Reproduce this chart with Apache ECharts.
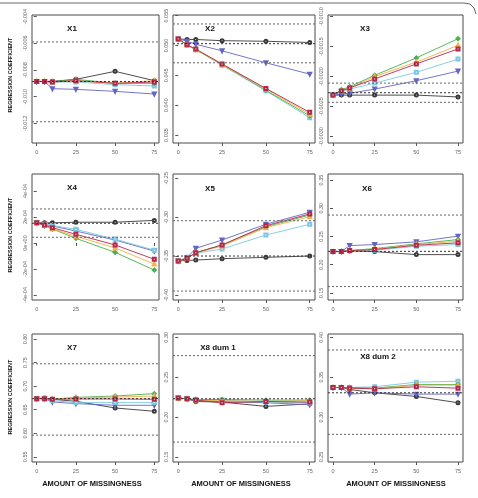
<!DOCTYPE html>
<html>
<head>
<meta charset="utf-8">
<script src="https://cdn.jsdelivr.net/npm/echarts@6/dist/echarts.min.js"></script>
<style>
  html, body { margin: 0; padding: 0; background: #fff; }
  #chart { width: 478px; height: 498px; }
</style>
</head>
<body>
<div id="chart"></div>
<script>
// amount of missingness (x) and the tick labels
var xs = [0, 5, 10, 25, 50, 75];
var xTicks = [0, 25, 50, 75];
var xExtent = [-3, 78];

var panelNames = ['X1', 'X2', 'X3', 'X4', 'X5', 'X6', 'X7', 'X8 dum 1', 'X8 dum 2'];

// one row per panel, values at xs
var black = [
  [-0.00886, -0.00886, -0.00885, -0.0087, -0.0081, -0.0088],
  [0.0511, 0.0510, 0.0510, 0.0508, 0.0507, 0.0505],
  [-0.00231, -0.00231, -0.00231, -0.00231, -0.00231, -0.00234],
  [1.55e-4, 1.55e-4, 1.55e-4, 1.6e-4, 1.6e-4, 1.74e-4],
  [-0.3563, -0.3555, -0.3551, -0.3533, -0.3516, -0.3499],
  [0.2232, 0.2232, 0.2244, 0.2232, 0.2179, 0.2179],
  [0.6734, 0.6747, 0.672, 0.6677, 0.6536, 0.6466],
  [0.2238, 0.2230, 0.2196, 0.2188, 0.2134, 0.2167],
  [0.3371, 0.3371, 0.3346, 0.3305, 0.3259, 0.318]
];
var blue = [
  [-0.00886, -0.00886, -0.0094, -0.00945, -0.0096, -0.0098],
  [0.0511, 0.0507, 0.0502, 0.0491, 0.0471, 0.0452],
  [-0.00231, -0.00229, -0.00228, -0.00221, -0.00207, -0.00191],
  [1.55e-4, 1.44e-4, 1.31e-4, 0.92e-4, 0.23e-4, -0.62e-4],
  [-0.3563, -0.352, -0.340, -0.3293, -0.3091, -0.2937],
  [0.2232, 0.2235, 0.2339, 0.2357, 0.2405, 0.2506],
  [0.6734, 0.6734, 0.6663, 0.6629, 0.6593, 0.6593],
  [0.2238, 0.2230, 0.2205, 0.2196, 0.2180, 0.2155],
  [0.3371, 0.3371, 0.3288, 0.3305, 0.3288, 0.3288]
];
var cyan = [
  [-0.00886, -0.00886, -0.0089, -0.0089, -0.0091, -0.0092],
  [0.0511, 0.0501, 0.0493, 0.0467, 0.0424, 0.0379],
  [-0.00231, -0.00225, -0.00221, -0.00211, -0.00193, -0.00171],
  [1.55e-4, 1.44e-4, 1.35e-4, 1.05e-4, 0.30e-4, -0.55e-4],
  [-0.3563, -0.3515, -0.3464, -0.3409, -0.3229, -0.3091],
  [0.2232, 0.2235, 0.2250, 0.2256, 0.2327, 0.2357],
  [0.6734, 0.6734, 0.6691, 0.665, 0.665, 0.665],
  [0.2238, 0.2230, 0.2213, 0.2213, 0.2188, 0.2180],
  [0.3371, 0.3371, 0.3371, 0.338, 0.3438, 0.345]
];
var green = [
  [-0.00886, -0.00886, -0.0089, -0.0087, -0.0090, -0.0090],
  [0.0511, 0.0501, 0.0493, 0.0468, 0.0425, 0.0382],
  [-0.00231, -0.00222, -0.00217, -0.00198, -0.00169, -0.00137],
  [1.55e-4, 1.31e-4, 1.08e-4, 0.36e-4, -0.72e-4, -2.08e-4],
  [-0.3563, -0.3529, -0.3456, -0.3357, -0.3122, -0.2972],
  [0.2232, 0.2235, 0.2250, 0.2286, 0.2369, 0.2446],
  [0.6734, 0.6747, 0.672, 0.6761, 0.6789, 0.684],
  [0.2238, 0.2230, 0.2221, 0.2221, 0.2213, 0.2213],
  [0.3371, 0.3371, 0.3371, 0.3363, 0.3409, 0.3409]
];
var orange = [
  [-0.00886, -0.00886, -0.0089, -0.0088, -0.0090, -0.0088],
  [0.0511, 0.0501, 0.0493, 0.0468, 0.0427, 0.0385],
  [-0.00231, -0.00224, -0.00219, -0.00200, -0.00176, -0.00148],
  [1.55e-4, 1.35e-4, 1.1e-4, 0.52e-4, -0.38e-4, -1.62e-4],
  [-0.3563, -0.3529, -0.3460, -0.3370, -0.3135, -0.2994],
  [0.2232, 0.2235, 0.2250, 0.2275, 0.2357, 0.2416],
  [0.6734, 0.6740, 0.672, 0.6747, 0.6768, 0.6789],
  [0.2238, 0.2230, 0.2213, 0.2205, 0.2196, 0.2205],
  [0.3371, 0.3371, 0.3363, 0.3355, 0.3400, 0.3400]
];
var red = [
  [-0.00886, -0.00886, -0.0089, -0.0088, -0.0090, -0.0089],
  [0.0511, 0.0501, 0.0494, 0.0469, 0.0428, 0.0388],
  [-0.00231, -0.00224, -0.00219, -0.00204, -0.00179, -0.00154],
  [1.55e-4, 1.38e-4, 1.18e-4, 0.67e-4, -0.15e-4, -1.25e-4],
  [-0.3563, -0.3529, -0.3456, -0.3357, -0.3109, -0.2958],
  [0.2232, 0.2235, 0.2250, 0.2268, 0.2345, 0.2387],
  [0.6734, 0.6734, 0.672, 0.6727, 0.6727, 0.672],
  [0.2238, 0.2230, 0.2213, 0.2180, 0.2196, 0.2188],
  [0.3371, 0.3371, 0.3363, 0.3355, 0.338, 0.3363]
];

// dashed reference lines (upper, true value, lower)
var refLines = [
  [-0.0059, -0.00886, -0.01188],
  [0.0536, 0.0503, 0.0471],
  [-0.00211, -0.00227, -0.00243],
  [2.62e-4, 1.52e-4, 0.44e-4],
  [-0.3045, -0.3499, -0.3949],
  [0.288, 0.2237, 0.1613],
  [0.7473, 0.6734, 0.596],
  [0.2771, 0.223, 0.1687],
  [0.3842, 0.3305, 0.2784]
];

// y axis extent of each panel
var yRanges = [
  [-0.01347, -0.00388],
  [0.03367, 0.0551],
  [-0.003108, -0.000975],
  [-4.385e-4, 5.31e-4],
  [-0.4064, -0.2445],
  [0.1375, 0.3607],
  [0.539, 0.8105],
  [0.1437, 0.3042],
  [0.2437, 0.4042]
];

var yTicks = [
  [-0.004, -0.006, -0.008, -0.010, -0.012],
  [0.055, 0.050, 0.045, 0.040, 0.035],
  [-0.0010, -0.0015, -0.0020, -0.0025, -0.0030],
  [4e-4, 2e-4, 0, -2e-4, -4e-4],
  [-0.25, -0.30, -0.35, -0.40],
  [0.35, 0.30, 0.25, 0.20, 0.15],
  [0.80, 0.75, 0.70, 0.65, 0.60, 0.55],
  [0.30, 0.25, 0.20, 0.15],
  [0.40, 0.35, 0.30, 0.25]
];
var yTickLabels = [
  ['-0.004', '-0.006', '-0.008', '-0.010', '-0.012'],
  ['0.055', '0.050', '0.045', '0.040', '0.035'],
  ['-0.0010', '-0.0015', '-0.0020', '-0.0025', '-0.0030'],
  ['4e-04', '2e-04', '0e+00', '-2e-04', '-4e-04'],
  ['-0.25', '-0.30', '-0.35', '-0.40'],
  ['0.35', '0.30', '0.25', '0.20', '0.15'],
  ['0.80', '0.75', '0.70', '0.65', '0.60', '0.55'],
  ['0.30', '0.25', '0.20', '0.15'],
  ['0.40', '0.35', '0.30', '0.25']
];

var methods = [
  { data: black, color: '#3a3a3a', symbol: 'emptyCircle', rot: 0 },
  { data: blue, color: '#6466c4', symbol: 'emptyTriangle', rot: 180 },
  { data: cyan, color: '#7cc8e2', symbol: 'emptyRect', rot: 0 },
  { data: green, color: '#45b04c', symbol: 'emptyDiamond', rot: 0 },
  { data: orange, color: '#f2b14a', symbol: 'emptyTriangle', rot: 0 },
  { data: red, color: '#b3284a', symbol: 'emptyRect', rot: 0 }
];

var cols = [{ left: 32, width: 127 }, { left: 173, width: 142 }, { left: 328, width: 135 }];
var rows = [{ top: 15, height: 128 }, { top: 174, height: 126 }, { top: 334, height: 128 }];
var titlePos = [[72, 29], [210, 29], [365, 29], [72, 188], [210, 189], [367, 189], [72, 348], [218, 348], [378, 357]];

var font = "'Liberation Sans', Arial, sans-serif";
var grids = [], xAxes = [], yAxes = [], series = [], graphics = [];

for (var p = 0; p < 9; p++) {
  var c = cols[p % 3], r = rows[Math.floor(p / 3)];
  grids.push({
    left: c.left, top: r.top, width: c.width, height: r.height,
    show: true, borderColor: '#4a4a4a', borderWidth: 1, backgroundColor: 'transparent'
  });
  xAxes.push({
    type: 'value', gridIndex: p, min: xExtent[0], max: xExtent[1],
    axisLine: { show: false },
    splitLine: { show: false },
    axisTick: { customValues: xTicks, length: 3, lineStyle: { color: '#555' } },
    axisLabel: { customValues: xTicks, fontSize: 5.5, color: '#666', margin: 6, fontFamily: font }
  });
  (function (ticks, labels) {
    yAxes.push({
      type: 'value', gridIndex: p, min: yRanges[p][0], max: yRanges[p][1],
      axisLine: { show: false },
      splitLine: { show: false },
      axisTick: { customValues: ticks, length: 3, lineStyle: { color: '#555' } },
      axisLabel: {
        customValues: ticks, rotate: 90, fontSize: 5.5, color: '#666', margin: 4, fontFamily: font,
        formatter: function (v) {
          for (var i = 0; i < ticks.length; i++) {
            if (Math.abs(ticks[i] - v) < 1e-9) return labels[i];
          }
          return '';
        }
      }
    });
  })(yTicks[p], yTickLabels[p]);

  methods.forEach(function (m) {
    series.push({
      type: 'line', xAxisIndex: p, yAxisIndex: p,
      data: xs.map(function (x, i) { return [x, m.data[p][i]]; }),
      symbol: m.symbol, symbolRotate: m.rot, symbolSize: 3, showSymbol: true,
      lineStyle: { color: m.color, width: 0.9 },
      itemStyle: { color: m.color, borderWidth: 0.8 },
      animation: false, silent: true, z: 2
    });
  });

  // dashed reference lines across the panel
  refLines[p].forEach(function (v, j) {
    series.push({
      type: 'line', xAxisIndex: p, yAxisIndex: p,
      data: [[xExtent[0], v], [xExtent[1], v]],
      symbol: 'none',
      lineStyle: { type: [2, 2], color: j === 1 ? '#333' : '#666', width: 1 },
      animation: false, silent: true, z: 3
    });
  });

  graphics.push({
    type: 'text', x: titlePos[p][0], y: titlePos[p][1],
    style: { text: panelNames[p], font: 'bold 8px ' + font, fill: '#111', textAlign: 'center', textVerticalAlign: 'middle' }
  });
}

// axis titles
[75, 235, 397].forEach(function (y) {
  graphics.push({
    type: 'text', x: 10, y: y, rotation: Math.PI / 2,
    style: { text: 'REGRESSION COEFFICIENT', font: 'bold 5.5px ' + font, fill: '#111', textAlign: 'center', textVerticalAlign: 'middle' }
  });
});
[92, 241, 396].forEach(function (x) {
  graphics.push({
    type: 'text', x: x, y: 484,
    style: { text: 'AMOUNT OF MISSINGNESS', font: 'bold 7.5px ' + font, fill: '#111', textAlign: 'center', textVerticalAlign: 'middle' }
  });
});
// figure frame at the top
graphics.push({
  type: 'polyline',
  shape: { points: [[0, 3], [464, 3], [470, 4], [474, 8], [476, 14]] },
  style: { stroke: '#666', lineWidth: 1, fill: null }
});

var chart = echarts.init(document.getElementById('chart'), null, { renderer: 'canvas' });
chart.setOption({
  animation: false,
  grid: grids,
  xAxis: xAxes,
  yAxis: yAxes,
  series: series,
  graphic: graphics
});
</script>
</body>
</html>
